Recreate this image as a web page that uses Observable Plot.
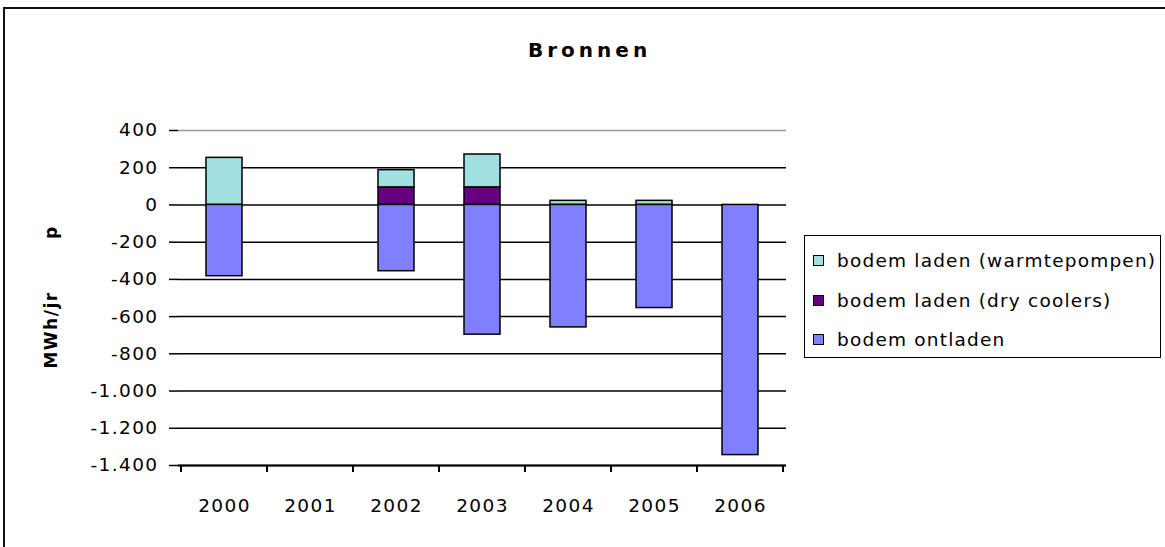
<!DOCTYPE html>
<html>
<head>
<meta charset="utf-8">
<script src="https://cdn.jsdelivr.net/npm/d3@7"></script>
<script src="https://cdn.jsdelivr.net/npm/@observablehq/plot@0.6"></script>
<style>
  html, body { margin: 0; padding: 0; background: #fff; overflow: hidden; width: 1165px; height: 547px; }
  #wrap { position: relative; width: 1165px; height: 547px; overflow: hidden; }
  #frame { position: absolute; left: 3px; top: 7px; width: 1250px; height: 650px; border: 2px solid #111; box-sizing: border-box; }
  #chart { position: absolute; left: 0; top: 0; }
  #title { position: absolute; left: 528px; top: 38px; font: bold 20px "DejaVu Sans", sans-serif; letter-spacing: 4px; color: #000; white-space: nowrap; }
  #legend { position: absolute; left: 804px; top: 235px; width: 357px; height: 123px; border: 1.5px solid #000; box-sizing: border-box; font: 18.5px "DejaVu Sans", sans-serif; letter-spacing: 1.2px; color: #000; }
  .item { position: absolute; left: 8px; height: 22px; line-height: 22px; white-space: nowrap; }
  .sw { display: inline-block; width: 9px; height: 9px; border: 1px solid #000; margin-right: 13px; vertical-align: 1px; }
  #chart svg g[aria-label="y-axis tick label"] text, #chart svg g[aria-label="x-axis tick label"] text { font-size: 18.5px; letter-spacing: 1.4px; }
</style>
</head>
<body>
<div id="wrap">
  <div id="frame"></div>
  <div id="chart"></div>
  <div id="title">Bronnen</div>
  <div id="legend"></div>
</div>
<script>
const years = ["2000", "2001", "2002", "2003", "2004", "2005", "2006"];
const warmtepompen = [253, 0, 94, 178, 22, 22, 0];
const dryCoolers = [0, 0, 93, 93, 0, 0, 0];
const ontladen = [-383, 0, -356, -697, -658, -554, -1344];
const seriesNames = ["bodem laden (warmtepompen)", "bodem laden (dry coolers)", "bodem ontladen"];
const seriesColors = ["#A0E0E0", "#660080", "#8080FF"];
const yTicks = [400, 200, 0, -200, -400, -600, -800, -1000, -1200, -1400];

const seriesValues = [warmtepompen, dryCoolers, ontladen];
const rows = [];
seriesNames.forEach((s, si) => {
  years.forEach((y, i) => {
    const v = seriesValues[si][i];
    if (v !== 0) rows.push({year: y, series: s, value: v});
  });
});

const fmt = v => {
  const a = Math.abs(v);
  const s = a >= 1000 ? Math.floor(a / 1000) + "." + String(a % 1000).padStart(3, "0") : String(a);
  return (v < 0 ? "-" : "") + s;
};

const W = 1165, H = 547;
const mL = 178, mR = W - 786, mT = 130, mB = H - 465;

const plot = Plot.plot({
  width: W,
  height: H,
  marginLeft: mL,
  marginRight: mR,
  marginTop: mT,
  marginBottom: mB,
  style: {fontFamily: "DejaVu Sans, sans-serif", fontSize: "18px", background: "transparent", overflow: "visible"},
  x: {domain: years, paddingInner: 0.585, paddingOuter: 0.2925, label: null},
  y: {domain: [-1400, 400], label: null},
  color: {domain: seriesNames, range: seriesColors},
  marks: [
    Plot.ruleY([400], {stroke: "#999", strokeWidth: 1.5}),
    Plot.ruleY(yTicks.filter(t => t !== 400), {stroke: "#000", strokeWidth: 1.5}),
    Plot.ruleX([0], {frameAnchor: "right", stroke: "#999", strokeWidth: 1.5}),
    Plot.barY(rows, Plot.stackY({
      x: "year", y: "value", fill: "series",
      order: ["bodem ontladen", "bodem laden (dry coolers)", "bodem laden (warmtepompen)"],
      stroke: "#000", strokeWidth: 1.5
    })),
    Plot.axisY({ticks: yTicks, tickFormat: fmt, tickSize: 9, tickPadding: 11, stroke: "#000", strokeWidth: 1.5,
      fill: "#000", label: null}),
    Plot.axisX({tickSize: 0, tickPadding: 33, fill: "#000", label: null}),
    Plot.ruleY([-1400], {stroke: "#000", strokeWidth: 2}),
    Plot.ruleX([0], {frameAnchor: "left", stroke: "#000", strokeWidth: 2})
  ]
});

document.getElementById("chart").appendChild(plot);

// category boundary ticks on the x axis, from the band scale
const xs = plot.scale("x");
const svg = d3.select(plot);
const step = xs.step, bw = xs.bandwidth;
const bounds = years.map(y => xs.apply(y) - (step - bw) / 2);
bounds.push(xs.apply(years[years.length - 1]) + bw + (step - bw) / 2);
const yPix = plot.scale("y").apply(-1400);
svg.append("g").selectAll("line").data(bounds).join("line")
  .attr("x1", d => d).attr("x2", d => d)
  .attr("y1", yPix).attr("y2", yPix + 7)
  .attr("stroke", "#000").attr("stroke-width", 2);

// y-axis title
const yl = svg.append("g").attr("font-family", "DejaVu Sans, sans-serif").attr("font-weight", "bold")
  .attr("font-size", 17).attr("fill", "#000");
yl.append("text").attr("transform", "translate(57,330) rotate(-90)").attr("text-anchor", "middle")
  .attr("letter-spacing", 1.5).text("MWh/jr");
yl.append("text").attr("transform", "translate(57,233) rotate(-90)").attr("text-anchor", "middle").text("p");

// legend
const legend = document.getElementById("legend");
[0, 1, 2].forEach(i => {
  const it = document.createElement("div");
  it.className = "item";
  it.style.top = (14 + i * 39.5) + "px";
  const sw = document.createElement("span");
  sw.className = "sw";
  sw.style.background = seriesColors[i];
  it.appendChild(sw);
  it.appendChild(document.createTextNode(seriesNames[i]));
  legend.appendChild(it);
});
</script>
</body>
</html>
